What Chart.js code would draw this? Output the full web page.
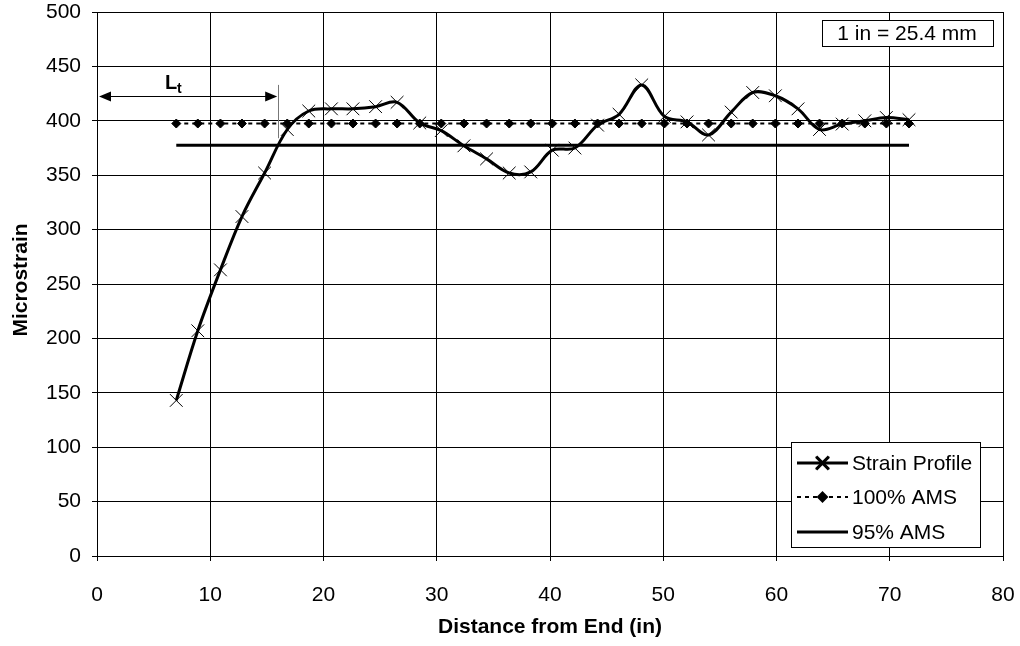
<!DOCTYPE html>
<html>
<head>
<meta charset="utf-8">
<script src="https://cdn.jsdelivr.net/npm/chart.js@4.4.1/dist/chart.umd.min.js"></script>
<style>
  html, body { margin: 0; background: #fff; }
  #wrap { width: 1020px; height: 646px; }
</style>
</head>
<body>
<div id="wrap"><canvas id="c" width="1020" height="646"></canvas></div>
<script>
// ---- data ------------------------------------------------------------
// gauge positions (in) and measured strain profile (microstrain)
const DIST = [7.0, 8.9, 10.9, 12.8, 14.8, 16.8, 18.7, 20.7, 22.6, 24.6,
              26.5, 28.5, 30.4, 32.4, 34.4, 36.4, 38.3, 40.2, 42.2, 44.2,
              46.1, 48.1, 50.1, 52.1, 54.0, 56.0, 57.9, 59.9, 61.9, 63.8,
              65.8, 67.8, 69.7, 71.7];
const STRAIN = [143, 207, 263, 312, 352, 392, 409, 411, 411, 413,
                417, 398, 391, 377, 365, 352, 353, 373, 375, 396,
                406, 433, 404, 399, 387, 408, 426, 423, 411, 392,
                397, 400, 403, 401];
const AMS_100 = 397.5;   // average maximum strain
const AMS_95 = 377.6;    // 95% of AMS
const LT_END = 16.0;     // transfer length (in)
const LT_Y = 423;        // height of the L_t arrow
const LT_TICK = [384, 433];

const X_TICKS = [0, 10, 20, 30, 40, 50, 60, 70, 80];
const Y_TICKS = [0, 50, 100, 150, 200, 250, 300, 350, 400, 450, 500];

const SERIES = ["Strain Profile", "100% AMS", "95% AMS"];
const X_TITLE = "Distance from End (in)";
const Y_TITLE = "Microstrain";
const NOTE = "1 in = 25.4 mm";

const FONT = "'Liberation Sans', Arial, sans-serif";
const BLACK = "#000";

// ---- helpers -----------------------------------------------------------
const pts = (xs, ys) => xs.map((x, i) => ({ x, y: ys[i] }));
const flat = (xs, v) => xs.map(x => ({ x, y: v }));

function arrowHead(ctx, tipX, y, dir) {
  ctx.beginPath();
  ctx.moveTo(tipX, y);
  ctx.lineTo(tipX - dir * 12, y - 5);
  ctx.lineTo(tipX - dir * 12, y + 5);
  ctx.closePath();
  ctx.fill();
}

// annotations, legend, axis titles
const extras = {
  id: "extras",
  afterDatasetsDraw(chart) {
    const { ctx, scales: { x, y } } = chart;
    ctx.save();
    ctx.fillStyle = BLACK;
    ctx.strokeStyle = BLACK;
    ctx.lineWidth = 1;

    // L_t arrow
    const ay = Math.round(y.getPixelForValue(LT_Y)) + 0.5;
    const xa = x.getPixelForValue(0) + 2;
    const xb = x.getPixelForValue(LT_END) - 1;
    ctx.beginPath(); ctx.moveTo(xa + 8, ay); ctx.lineTo(xb - 8, ay); ctx.stroke();
    arrowHead(ctx, xa, ay, -1);
    arrowHead(ctx, xb, ay, 1);

    // vertical marker at end of transfer length
    const vx = Math.round(x.getPixelForValue(LT_END)) + 0.5;
    ctx.strokeStyle = "#777";
    ctx.beginPath();
    ctx.moveTo(vx, y.getPixelForValue(LT_TICK[1]));
    ctx.lineTo(vx, y.getPixelForValue(LT_TICK[0]));
    ctx.stroke();

    // label L_t
    ctx.fillStyle = BLACK;
    ctx.textBaseline = "alphabetic";
    ctx.font = "bold 20px " + FONT;
    ctx.fillText("L", 165, 89);
    ctx.font = "bold 14px " + FONT;
    ctx.fillText("t", 177, 93);
    ctx.restore();
  },
  afterDraw(chart) {
    const { ctx, chartArea } = chart;
    ctx.save();

    // unit note box
    ctx.fillStyle = "#fff";
    ctx.fillRect(822, 20, 171, 26);
    ctx.strokeStyle = BLACK;
    ctx.lineWidth = 1;
    ctx.strokeRect(822.5, 20.5, 171, 26);
    ctx.fillStyle = BLACK;
    ctx.font = "21px " + FONT;
    ctx.textAlign = "center";
    ctx.textBaseline = "middle";
    ctx.fillText(NOTE, 907, 34);

    // legend
    const lx = 791, ly = 442, lw = 189, lh = 105;
    ctx.fillStyle = "#fff";
    ctx.fillRect(lx, ly, lw, lh);
    ctx.strokeStyle = BLACK;
    ctx.strokeRect(lx + 0.5, ly + 0.5, lw, lh);
    const rows = [463, 497, 532];
    const sx0 = 797, sx1 = 848, sxm = (sx0 + sx1) / 2;
    chart.data.datasets.forEach((ds, i) => {
      const ry = rows[i];
      ctx.strokeStyle = BLACK;
      ctx.lineWidth = ds.borderWidth;
      ctx.setLineDash(ds.borderDash || []);
      ctx.beginPath(); ctx.moveTo(sx0, ry); ctx.lineTo(sx1, ry); ctx.stroke();
      ctx.setLineDash([]);
      if (ds.pointRadius > 0) {
        Chart.helpers.drawPoint(ctx, {
          pointStyle: ds.pointStyle, radius: ds.pointRadius,
          borderWidth: ds.pointBorderWidth, rotation: 0,
        }, sxm, ry);
        ctx.fillStyle = BLACK;
        ctx.strokeStyle = BLACK;
        ctx.lineWidth = ds.pointBorderWidth;
        if (ds.pointStyle === "rectRot") ctx.fill();
        ctx.stroke();
      }
      ctx.fillStyle = BLACK;
      ctx.font = "21px " + FONT;
      ctx.textAlign = "left";
      ctx.textBaseline = "middle";
      ctx.fillText(ds.label, 852, ry + 1);
    });

    // axis titles
    ctx.fillStyle = BLACK;
    ctx.font = "bold 21px " + FONT;
    ctx.textAlign = "center";
    ctx.textBaseline = "middle";
    ctx.fillText(X_TITLE, (chartArea.left + chartArea.right) / 2, 627);
    ctx.translate(21, 280);
    ctx.rotate(-Math.PI / 2);
    ctx.fillText(Y_TITLE, 0, 0);
    ctx.restore();
  },
};

// ---- chart -------------------------------------------------------------
const tickFont = { family: FONT, size: 21 };

new Chart(document.getElementById("c"), {
  type: "line",
  data: {
    datasets: [
      {
        label: SERIES[0], data: pts(DIST, STRAIN),
        borderColor: BLACK, borderWidth: 3, tension: 0.35,
        pointStyle: "crossRot", pointRadius: 9, pointBorderWidth: 1,
        pointBorderColor: BLACK, pointBackgroundColor: BLACK, order: 1,
      },
      {
        label: SERIES[1], data: flat(DIST, AMS_100),
        borderColor: BLACK, borderWidth: 2, borderDash: [4, 4],
        pointStyle: "rectRot", pointRadius: 4.5, pointBorderWidth: 1,
        pointBorderColor: BLACK, pointBackgroundColor: BLACK, order: 2,
      },
      {
        label: SERIES[2], data: [{ x: DIST[0], y: AMS_95 }, { x: DIST[DIST.length - 1], y: AMS_95 }],
        borderColor: BLACK, borderWidth: 3, pointRadius: 0, order: 3,
      },
    ],
  },
  options: {
    responsive: false,
    animation: false,
    layout: { padding: 0 },
    plugins: { legend: { display: false }, tooltip: { enabled: false } },
    scales: {
      x: {
        type: "linear",
        min: X_TICKS[0], max: X_TICKS[X_TICKS.length - 1],
        ticks: { stepSize: X_TICKS[1] - X_TICKS[0], color: BLACK, font: tickFont,
                 padding: 22, maxRotation: 0 },
        grid: { color: BLACK, lineWidth: 1, tickLength: 5 },
        border: { color: BLACK, width: 1 },
        afterFit(s) {
          s.height = 90;
          s.paddingLeft = 0; s.paddingRight = 17;
        },
      },
      y: {
        min: Y_TICKS[0], max: Y_TICKS[Y_TICKS.length - 1],
        ticks: { stepSize: Y_TICKS[1] - Y_TICKS[0], color: BLACK, font: tickFont, padding: 11 },
        grid: { color: BLACK, lineWidth: 1, tickLength: 5 },
        border: { color: BLACK, width: 1 },
        afterFit(s) {
          s.width = 97;
          s.paddingTop = 12; s.paddingBottom = 0;
        },
      },
    },
  },
  plugins: [extras],
});
</script>
</body>
</html>
